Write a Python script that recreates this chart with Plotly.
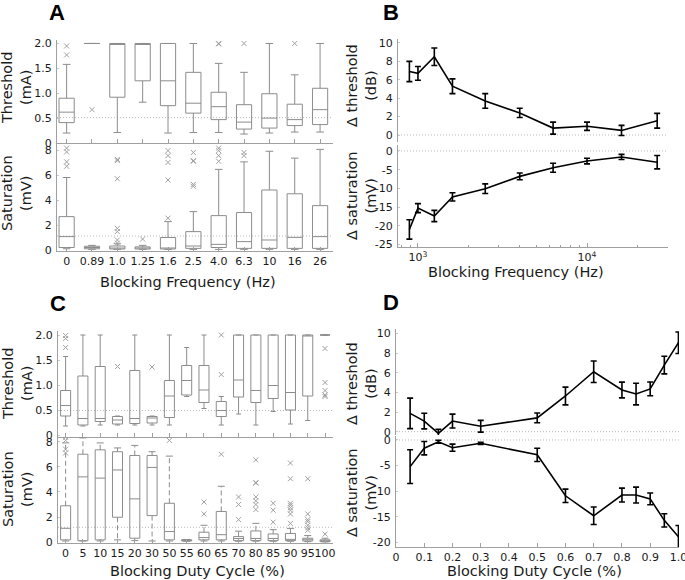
import plotly.graph_objects as go

W, H = 685, 580

# ---------------- Panel A data (box plots vs blocking frequency) ----------------
freq_labels = ["0", "0.89", "1.0", "1.25", "1.6", "2.5", "4.0", "6.3", "10", "16", "26"]

A_thr_low = [0.20, 2.00, 0.21, 0.82, 0.20, 0.21, 0.21, 0.18, 0.20, 0.22, 0.22]
A_thr_q1 = [0.41, 2.00, 0.92, 1.25, 0.75, 0.60, 0.47, 0.28, 0.30, 0.35, 0.37]
A_thr_med = [0.62, 2.00, 2.00, 2.00, 1.25, 0.80, 0.73, 0.42, 0.50, 0.47, 0.67]
A_thr_q3 = [0.90, 2.00, 2.00, 2.00, 2.00, 1.42, 1.02, 0.77, 0.99, 0.78, 1.10]
A_thr_high = [1.58, 2.00, 2.00, 2.00, 2.00, 2.00, 1.60, 1.42, 2.00, 1.37, 2.00]
A_thr_out_cat = [0, 0, 1, 6, 6, 7, 9]
A_thr_out_val = [1.95, 1.77, 0.67, 2.00, 1.99, 2.00, 2.00]
A_thr_ref = 0.51

A_sat_low = [0.10, 0.05, 0.05, 0.05, 0.05, 0.05, 0.05, 0.05, 0.05, 0.05, 0.05]
A_sat_q1 = [0.20, 0.10, 0.08, 0.08, 0.08, 0.13, 0.20, 0.13, 0.13, 0.13, 0.13]
A_sat_med = [1.07, 0.20, 0.15, 0.15, 0.13, 0.32, 0.45, 0.67, 0.80, 1.01, 1.07]
A_sat_q3 = [2.67, 0.30, 0.32, 0.25, 1.00, 1.47, 2.75, 3.00, 4.80, 4.50, 3.55]
A_sat_high = [5.80, 0.37, 0.50, 0.37, 2.27, 3.07, 6.45, 7.05, 7.90, 7.35, 8.05]
A_sat_out_cat = [0, 0, 0, 0, 2, 2, 2, 2, 2, 2, 2, 3, 4, 4, 4, 4, 4,
                 5, 5, 5, 5, 5, 6, 6, 6, 6, 7, 7]
A_sat_out_val = [8.15, 7.85, 7.05, 6.70, 7.25, 7.15, 5.70, 1.73, 1.47, 0.80, 0.55, 0.88,
                 7.95, 7.55, 7.00, 5.60, 2.55,
                 7.80, 7.15, 7.10, 5.25, 5.10, 8.15, 7.95, 7.55, 7.10, 7.80, 7.55]
A_sat_ref = 1.12

# ---------------- Panel B data (mean +/- error vs frequency) ----------------
B_freq = [890, 1000, 1250, 1600, 2500, 4000, 6300, 10000, 16000, 26000]
B_thr = [6.9, 6.7, 8.5, 5.3, 3.7, 2.4, 0.75, 0.95, 0.5, 1.55]
B_thr_err = [1.1, 0.75, 0.95, 0.8, 0.8, 0.5, 0.65, 0.45, 0.55, 0.8]
B_sat = [-21.0, -15.3, -17.4, -12.3, -10.1, -6.8, -4.5, -2.7, -1.6, -3.0]
B_sat_err = [2.6, 1.2, 1.5, 1.1, 1.3, 0.9, 1.2, 0.75, 0.7, 1.8]

# ---------------- Panel C data (box plots vs duty cycle) ----------------
duty_labels = ["0", "5", "10", "15", "20", "30", "50", "55", "60", "65",
               "70", "80", "85", "90", "95", "100"]

C_thr_low = [0.18, 0.18, 0.20, 0.20, 0.20, 0.20, 0.20, 0.77, 0.53, 0.20, 0.42, 0.20, 0.47, 0.22, 0.29, 2.00]
C_thr_q1 = [0.38, 0.20, 0.27, 0.22, 0.23, 0.24, 0.35, 0.80, 0.65, 0.37, 0.76, 0.65, 0.73, 0.50, 0.78, 2.00]
C_thr_med = [0.59, 0.33, 0.33, 0.30, 0.33, 0.34, 0.78, 1.09, 0.90, 0.49, 1.10, 0.89, 0.99, 0.85, 2.00, 2.00]
C_thr_q3 = [0.89, 1.18, 1.37, 0.37, 1.29, 0.37, 1.09, 1.39, 1.39, 0.67, 2.00, 2.00, 2.00, 2.00, 2.00, 2.00]
C_thr_high = [1.57, 2.00, 2.00, 0.38, 2.00, 0.38, 2.00, 1.75, 2.00, 0.77, 2.00, 2.00, 2.00, 2.00, 2.00, 2.00]
C_thr_out_cat = [0, 0, 0, 3, 5, 9, 9, 15, 15, 15, 15, 15]
C_thr_out_val = [1.99, 1.93, 1.75, 1.37, 1.36, 2.00, 1.21, 1.73, 1.05, 0.89, 0.80, 0.77]
C_thr_ref = 0.49

C_sat_low = [0.10, 0.10, 0.10, 0.19, 0.13, 0.10, 0.10, 0.08, 0.10, 0.10, 0.08, 0.08, 0.08, 0.08, 0.05, 0.03]
C_sat_q1 = [0.19, 0.12, 0.19, 1.99, 0.32, 2.12, 0.19, 0.10, 0.19, 0.19, 0.13, 0.13, 0.13, 0.13, 0.10, 0.05]
C_sat_med = [1.11, 5.20, 5.10, 5.75, 3.45, 5.95, 0.85, 0.15, 0.37, 0.60, 0.30, 0.30, 0.30, 0.23, 0.20, 0.12]
C_sat_q3 = [2.90, 7.00, 7.35, 7.20, 6.90, 6.90, 3.10, 0.20, 0.80, 2.45, 0.45, 0.90, 0.66, 0.70, 0.32, 0.19]
C_sat_high = [7.90, 8.30, 7.90, 7.50, 7.70, 7.20, 6.85, 0.22, 1.35, 4.45, 0.88, 1.50, 1.00, 1.10, 0.53, 0.32]
C_sat_out_cat = [0, 0, 0, 0, 6, 8, 8, 9, 10, 10, 10, 11, 11, 11, 11, 11, 11, 11,
                 12, 12, 12, 13, 13, 13, 13, 13, 13, 13, 13, 14, 14, 14, 14, 14, 14, 14, 15]
C_sat_out_val = [8.35, 8.10, 7.40, 7.10, 8.10, 3.20, 2.25, 7.00, 3.60, 3.00, 1.80,
                 6.55, 4.75, 4.70, 3.60, 3.30, 3.00, 2.60,
                 3.10, 2.55, 1.60, 6.30, 5.05, 3.10, 2.95, 2.75, 2.55, 2.25, 1.50,
                 5.05, 2.25, 1.80, 1.65, 1.35, 1.15, 0.95, 0.65]
C_sat_ref = 1.19

# ---------------- Panel D data (mean +/- error vs duty cycle) ----------------
D_duty = [0.05, 0.10, 0.15, 0.20, 0.30, 0.50, 0.60, 0.70, 0.80, 0.85, 0.90, 0.95, 1.00]
D_thr = [1.86, 1.08, -0.17, 1.08, 0.55, 1.40, 3.63, 6.10, 4.24, 3.83, 4.35, 6.78, 9.05]
D_thr_err = [1.55, 0.8, 0.4, 0.7, 0.6, 0.5, 0.9, 1.1, 0.8, 1.1, 0.7, 0.9, 1.1]
D_sat = [-5.2, -1.6, -0.35, -1.5, -0.65, -2.9, -10.9, -14.8, -10.75, -10.75, -11.5, -15.7, -18.9]
D_sat_err = [3.3, 1.3, 0.3, 0.7, 0.2, 1.3, 1.3, 1.7, 1.35, 1.55, 1.15, 1.3, 2.2]

# ---------------- styling ----------------
FONT = "DejaVu Sans"
AXC = "#a0a0a0"
BOXC = "#8c8c8c"
OUTC = "#a0a0a0"
TXT = "#1a1a1a"


def fx(p):
    return p / W


def fy(p):
    return 1 - p / H


fig = go.Figure()


def add_outliers(xa, ya, out_cat, out_val):
    fig.add_trace(go.Scatter(
        x=out_cat, y=out_val, xaxis=xa, yaxis=ya, mode="markers",
        marker=dict(symbol="x-thin-open", size=5, color=OUTC, line=dict(color=OUTC, width=1)),
        showlegend=False, hoverinfo="skip"))


def add_box(xa, ya, n, low, q1, med, q3, high, out_cat, out_val, width):
    fig.add_trace(go.Box(
        x=list(range(n)), lowerfence=low, q1=q1, median=med, q3=q3, upperfence=high,
        xaxis=xa, yaxis=ya, width=width, whiskerwidth=0.5,
        line=dict(color=BOXC, width=1), fillcolor="rgba(255,255,255,0)",
        boxpoints=False, showlegend=False, hoverinfo="skip"))
    add_outliers(xa, ya, out_cat, out_val)


def add_box_dashed(xa, ya, n, low, q1, med, q3, high, out_cat, out_val, width, cap_px):
    # box without whiskers, whiskers drawn dashed, caps as short solid ticks
    fig.add_trace(go.Box(
        x=list(range(n)), lowerfence=q1, q1=q1, median=med, q3=q3, upperfence=q3,
        xaxis=xa, yaxis=ya, width=width, whiskerwidth=0,
        line=dict(color=BOXC, width=1), fillcolor="rgba(255,255,255,0)",
        boxpoints=False, showlegend=False, hoverinfo="skip"))
    wx, wy = [], []
    for i in range(n):
        wx += [i, i, None, i, i, None]
        wy += [q3[i], high[i], None, q1[i], low[i], None]
    fig.add_trace(go.Scatter(
        x=wx, y=wy, xaxis=xa, yaxis=ya, mode="lines",
        line=dict(color=BOXC, width=1, dash="5px,3px"), showlegend=False, hoverinfo="skip"))
    fig.add_trace(go.Scatter(
        x=list(range(n)) * 2, y=list(high) + list(low), xaxis=xa, yaxis=ya, mode="markers",
        marker=dict(symbol="line-ew-open", size=cap_px, color=BOXC, line=dict(color=BOXC, width=1)),
        showlegend=False, hoverinfo="skip"))
    add_outliers(xa, ya, out_cat, out_val)


def add_err(xa, ya, xs, ys, es):
    fig.add_trace(go.Scatter(
        x=xs, y=ys, xaxis=xa, yaxis=ya, mode="lines", cliponaxis=False,
        line=dict(color="black", width=1.6),
        error_y=dict(type="data", array=es, color="black", thickness=1.6, width=3),
        showlegend=False, hoverinfo="skip"))


add_box("x", "y", 11, A_thr_low, A_thr_q1, A_thr_med, A_thr_q3, A_thr_high, A_thr_out_cat, A_thr_out_val, 0.6)
add_box("x2", "y2", 11, A_sat_low, A_sat_q1, A_sat_med, A_sat_q3, A_sat_high, A_sat_out_cat, A_sat_out_val, 0.6)
add_err("x3", "y3", B_freq, B_thr, B_thr_err)
add_err("x4", "y4", B_freq, B_sat, B_sat_err)
add_box("x5", "y5", 16, C_thr_low, C_thr_q1, C_thr_med, C_thr_q3, C_thr_high, C_thr_out_cat, C_thr_out_val, 0.58)
add_box_dashed("x6", "y6", 16, C_sat_low, C_sat_q1, C_sat_med, C_sat_q3, C_sat_high,
               C_sat_out_cat, C_sat_out_val, 0.58, 5)
add_err("x7", "y7", D_duty, D_thr, D_thr_err)
add_err("x8", "y8", D_duty, D_sat, D_sat_err)

tickfont = dict(family=FONT, size=11, color=TXT)


def xax(dom, rng, **kw):
    d = dict(domain=[fx(dom[0]), fx(dom[1])], range=rng, showgrid=False, zeroline=False,
             showline=True, linecolor=AXC, linewidth=1, ticks="inside", ticklen=4,
             tickcolor=AXC, tickfont=tickfont, fixedrange=True, automargin=False, tickangle=0,
             ticklabeloverflow="allow")
    d.update(kw)
    return d


def yax(dom, rng, vals, texts, anchor):
    return dict(domain=[fy(dom[1]), fy(dom[0])], range=rng, showgrid=False, zeroline=False,
                showline=True, linecolor=AXC, linewidth=1, ticks="inside", ticklen=2,
                tickcolor="#c8c8c8", tickfont=tickfont,
                tickvals=vals, ticktext=texts, anchor=anchor, ticklabelstandoff=2,
                automargin=False, ticklabeloverflow="allow")


# domains in pixels: (left, right), (top, bottom)
A_x = (57, 333)
B_x = (398, 668)
C_x = (58, 333)
D_x = (396, 679)

log_rng = [2.882, 4.479]
minor_vals = [800, 900, 2000, 3000, 4000, 5000, 6000, 7000, 8000, 9000, 20000, 30000]

fig.update_layout(
    width=W, height=H, margin=dict(l=0, r=0, t=0, b=0, autoexpand=False),
    paper_bgcolor="white", plot_bgcolor="white", boxmode="overlay",
    font=dict(family=FONT, color=TXT),
    xaxis=xax(A_x, [-0.38, 10.51], tickvals=list(range(11)), showticklabels=False, anchor="y"),
    yaxis=yax((40, 143), [0, 2.07], [0, 0.5, 1, 1.5, 2], ["0", "0.5", "1.0", "1.5", "2.0"], "x"),
    xaxis2=xax(A_x, [-0.38, 10.51], tickvals=list(range(11)), ticktext=freq_labels, anchor="y2"),
    yaxis2=yax((144, 251), [-0.08, 8.48], [0, 2, 4, 6, 8], ["0", "2", "4", "6", "8"], "x2"),
    xaxis3=dict(domain=[fx(B_x[0]), fx(B_x[1])], type="log", range=log_rng, showline=False,
                showgrid=False, zeroline=False, showticklabels=False, ticks="", anchor="y3",
                automargin=False),
    yaxis3=yax((39, 142), [-0.76, 10.43], [0, 2, 4, 6, 8, 10], ["0", "2", "4", "6", "8", "10"], "x3"),
    xaxis4=xax(B_x, log_rng, type="log", tickvals=[1000, 10000],
               ticktext=["10<sup>3</sup>", "10<sup>4</sup>"], anchor="y4",
               minor=dict(tickmode="array", tickvals=minor_vals, ticks="inside", ticklen=2,
                          tickcolor=AXC, showgrid=False)),
    yaxis4=yax((145, 247), [-25.7, 1.6], [0, -5, -10, -15, -20, -25],
               ["0", "-5", "-10", "-15", "-20", "-25"], "x4"),
    xaxis5=xax(C_x, [-0.44, 15.46], tickvals=list(range(16)), showticklabels=False, anchor="y5"),
    yaxis5=yax((331, 437), [-0.04, 2.08], [0, 0.5, 1, 1.5, 2], ["0", "0.5", "1.0", "1.5", "2.0"], "x5"),
    xaxis6=xax(C_x, [-0.44, 15.46], tickvals=list(range(16)), ticktext=duty_labels, anchor="y6"),
    yaxis6=yax((437, 543), [-0.06, 8.37], [0, 2, 4, 6, 8], ["0", "2", "4", "6", "8"], "x6"),
    xaxis7=dict(domain=[fx(D_x[0]), fx(D_x[1])], range=[0, 1.002], showline=False, showgrid=False,
                zeroline=False, showticklabels=False, ticks="", anchor="y7", automargin=False),
    yaxis7=yax((329, 435), [-0.34, 10.45], [0, 2, 4, 6, 8, 10], ["0", "2", "4", "6", "8", "10"], "x7"),
    xaxis8=xax(D_x, [0, 1.002], tickvals=[i / 10 for i in range(11)],
               ticktext=["0", "0.1", "0.2", "0.3", "0.4", "0.5", "0.6", "0.7", "0.8", "0.9", "1.0"],
               anchor="y8"),
    yaxis8=yax((436, 547), [-20.9, 0.78], [0, -5, -10, -15, -20], ["0", "-5", "-10", "-15", "-20"], "x8"),
)

# dotted reference lines
refs = [("x", "y", A_thr_ref), ("x2", "y2", A_sat_ref), ("x3", "y3", 0), ("x4", "y4", 0),
        ("x5", "y5", C_thr_ref), ("x6", "y6", C_sat_ref), ("x7", "y7", 0), ("x8", "y8", 0)]
for xa, ya, v in refs:
    fig.add_shape(type="line", xref=xa + " domain", yref=ya, x0=0, x1=1, y0=v, y1=v,
                  line=dict(color="#b8b8b8", width=1, dash="1px,2px"), layer="below")

ann = []
letter_font = dict(family="Liberation Sans", size=22, color="black")
for t, x, y in [("A", 57, 13), ("B", 391, 13), ("C", 58, 303), ("D", 391, 302)]:
    ann.append(dict(text="<b>%s</b>" % t, x=fx(x), y=fy(y), xref="paper", yref="paper",
                    showarrow=False, font=letter_font, xanchor="center", yanchor="middle"))

title_font = dict(family=FONT, size=14.5, color=TXT)
ytitles = [("Threshold<br>(mA)", 17, 88), ("Saturation<br>(mV)", 17, 193),
           ("Δ threshold<br>(dB)", 361, 85), ("Δ saturation<br>(mV)", 361, 196),
           ("Threshold<br>(mA)", 17, 384), ("Saturation<br>(mV)", 17, 489),
           ("Δ threshold<br>(dB)", 361, 383), ("Δ saturation<br>(mV)", 361, 493)]
for t, x, y in ytitles:
    ann.append(dict(text=t, x=fx(x), y=fy(y), xref="paper", yref="paper", showarrow=False,
                    textangle=-90, font=title_font, xanchor="center", yanchor="middle"))

xtitles = [("Blocking Frequency (Hz)", 188, 282), ("Blocking Frequency (Hz)", 516, 272),
           ("Blocking Duty Cycle (%)", 197, 571), ("Blocking Duty Cycle (%)", 534, 571)]
for t, x, y in xtitles:
    ann.append(dict(text=t, x=fx(x), y=fy(y), xref="paper", yref="paper", showarrow=False,
                    font=title_font, xanchor="center", yanchor="middle"))

fig.update_layout(annotations=ann)

fig.write_html("out.html", config={"displayModeBar": False},
               post_script="document.body.style.margin='0px';document.body.style.overflow='hidden';")
